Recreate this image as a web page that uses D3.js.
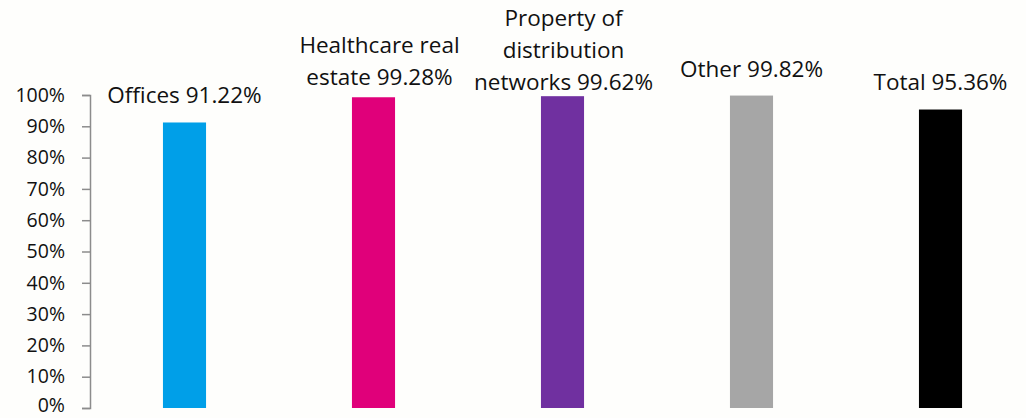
<!DOCTYPE html>
<html>
<head>
<meta charset="utf-8">
<script src="https://cdn.jsdelivr.net/npm/d3@7"></script>
<style>
  html, body { margin: 0; padding: 0; background: #fefefc; }
  svg { display: block; }
  text { font-family: "Open Sans", sans-serif; fill: #111; }
</style>
</head>
<body>
<svg id="chart" width="1026" height="418"></svg>
<script>
const categories = [`Offices`, `Healthcare real estate`, `Property of distribution networks`, `Other`, `Total`];
const values = [91.22, 99.28, 99.62, 99.82, 95.36];
const labelLines = [
  [`Offices 91.22%`],
  [`Healthcare real`, `estate 99.28%`],
  [`Property of`, `distribution`, `networks 99.62%`],
  [`Other 99.82%`],
  [`Total 95.36%`]
];
const tickValues = [0, 10, 20, 30, 40, 50, 60, 70, 80, 90, 100];

// layout only (not data)
const colors = [`#009fe8`, `#e0007a`, `#7030a0`, `#a6a6a6`, `#000000`];
const lastBaseline = [103, 85, 90, 77, 90];
const labelShift = [0, 6, 1, 0, 0];

(function () {

  const svg = d3.select(`#chart`);

  const x = d3.scaleBand()
    .domain(categories)
    .range([90, 1035])
    .paddingInner(0.772)
    .paddingOuter(0.386);

  const y = d3.scaleLinear()
    .domain([0, 100])
    .range([408, 95]);

  const axis = svg.append(`g`)
    .attr(`transform`, `translate(90,0)`)
    .call(d3.axisLeft(y).tickValues(tickValues).tickSize(8).tickPadding(17).tickFormat(d => d + `%`));

  axis.select(`.domain`).attr(`stroke`, `#8c8c8c`).attr(`stroke-width`, 1.5);
  axis.selectAll(`.tick line`).attr(`stroke`, `#8c8c8c`).attr(`stroke-width`, 1.5);
  axis.selectAll(`.tick text`)
    .style(`font-family`, `"Open Sans", sans-serif`)
    .style(`font-size`, `19.5px`)
    .attr(`fill`, `#111`)
    .attr(`dy`, d => d === 0 ? `0.16em` : `0.32em`);

  svg.append(`g`).selectAll(`rect`).data(values)
    .enter()
    .append(`rect`)
    .attr(`x`, (d, i) => x(categories[i]))
    .attr(`y`, d => y(d))
    .attr(`width`, x.bandwidth())
    .attr(`height`, d => y(0) - y(d))
    .attr(`fill`, (d, i) => colors[i]);

  const lineH = 32;

  const labels = svg.append(`g`).selectAll(`text`).data(labelLines)
    .enter()
    .append(`text`)
    .attr(`text-anchor`, `middle`)
    .style(`font-size`, `22.5px`);

  labels.each(function (lines, i) {
    const t = d3.select(this);
    const cx = x(categories[i]) + x.bandwidth() / 2 + labelShift[i];
    lines.forEach((ln, k) => {
      t.append(`tspan`)
        .attr(`x`, cx)
        .attr(`y`, lastBaseline[i] - (lines.length - 1 - k) * lineH)
        .text(ln);
    });
  });

})();
</script>
</body>
</html>
